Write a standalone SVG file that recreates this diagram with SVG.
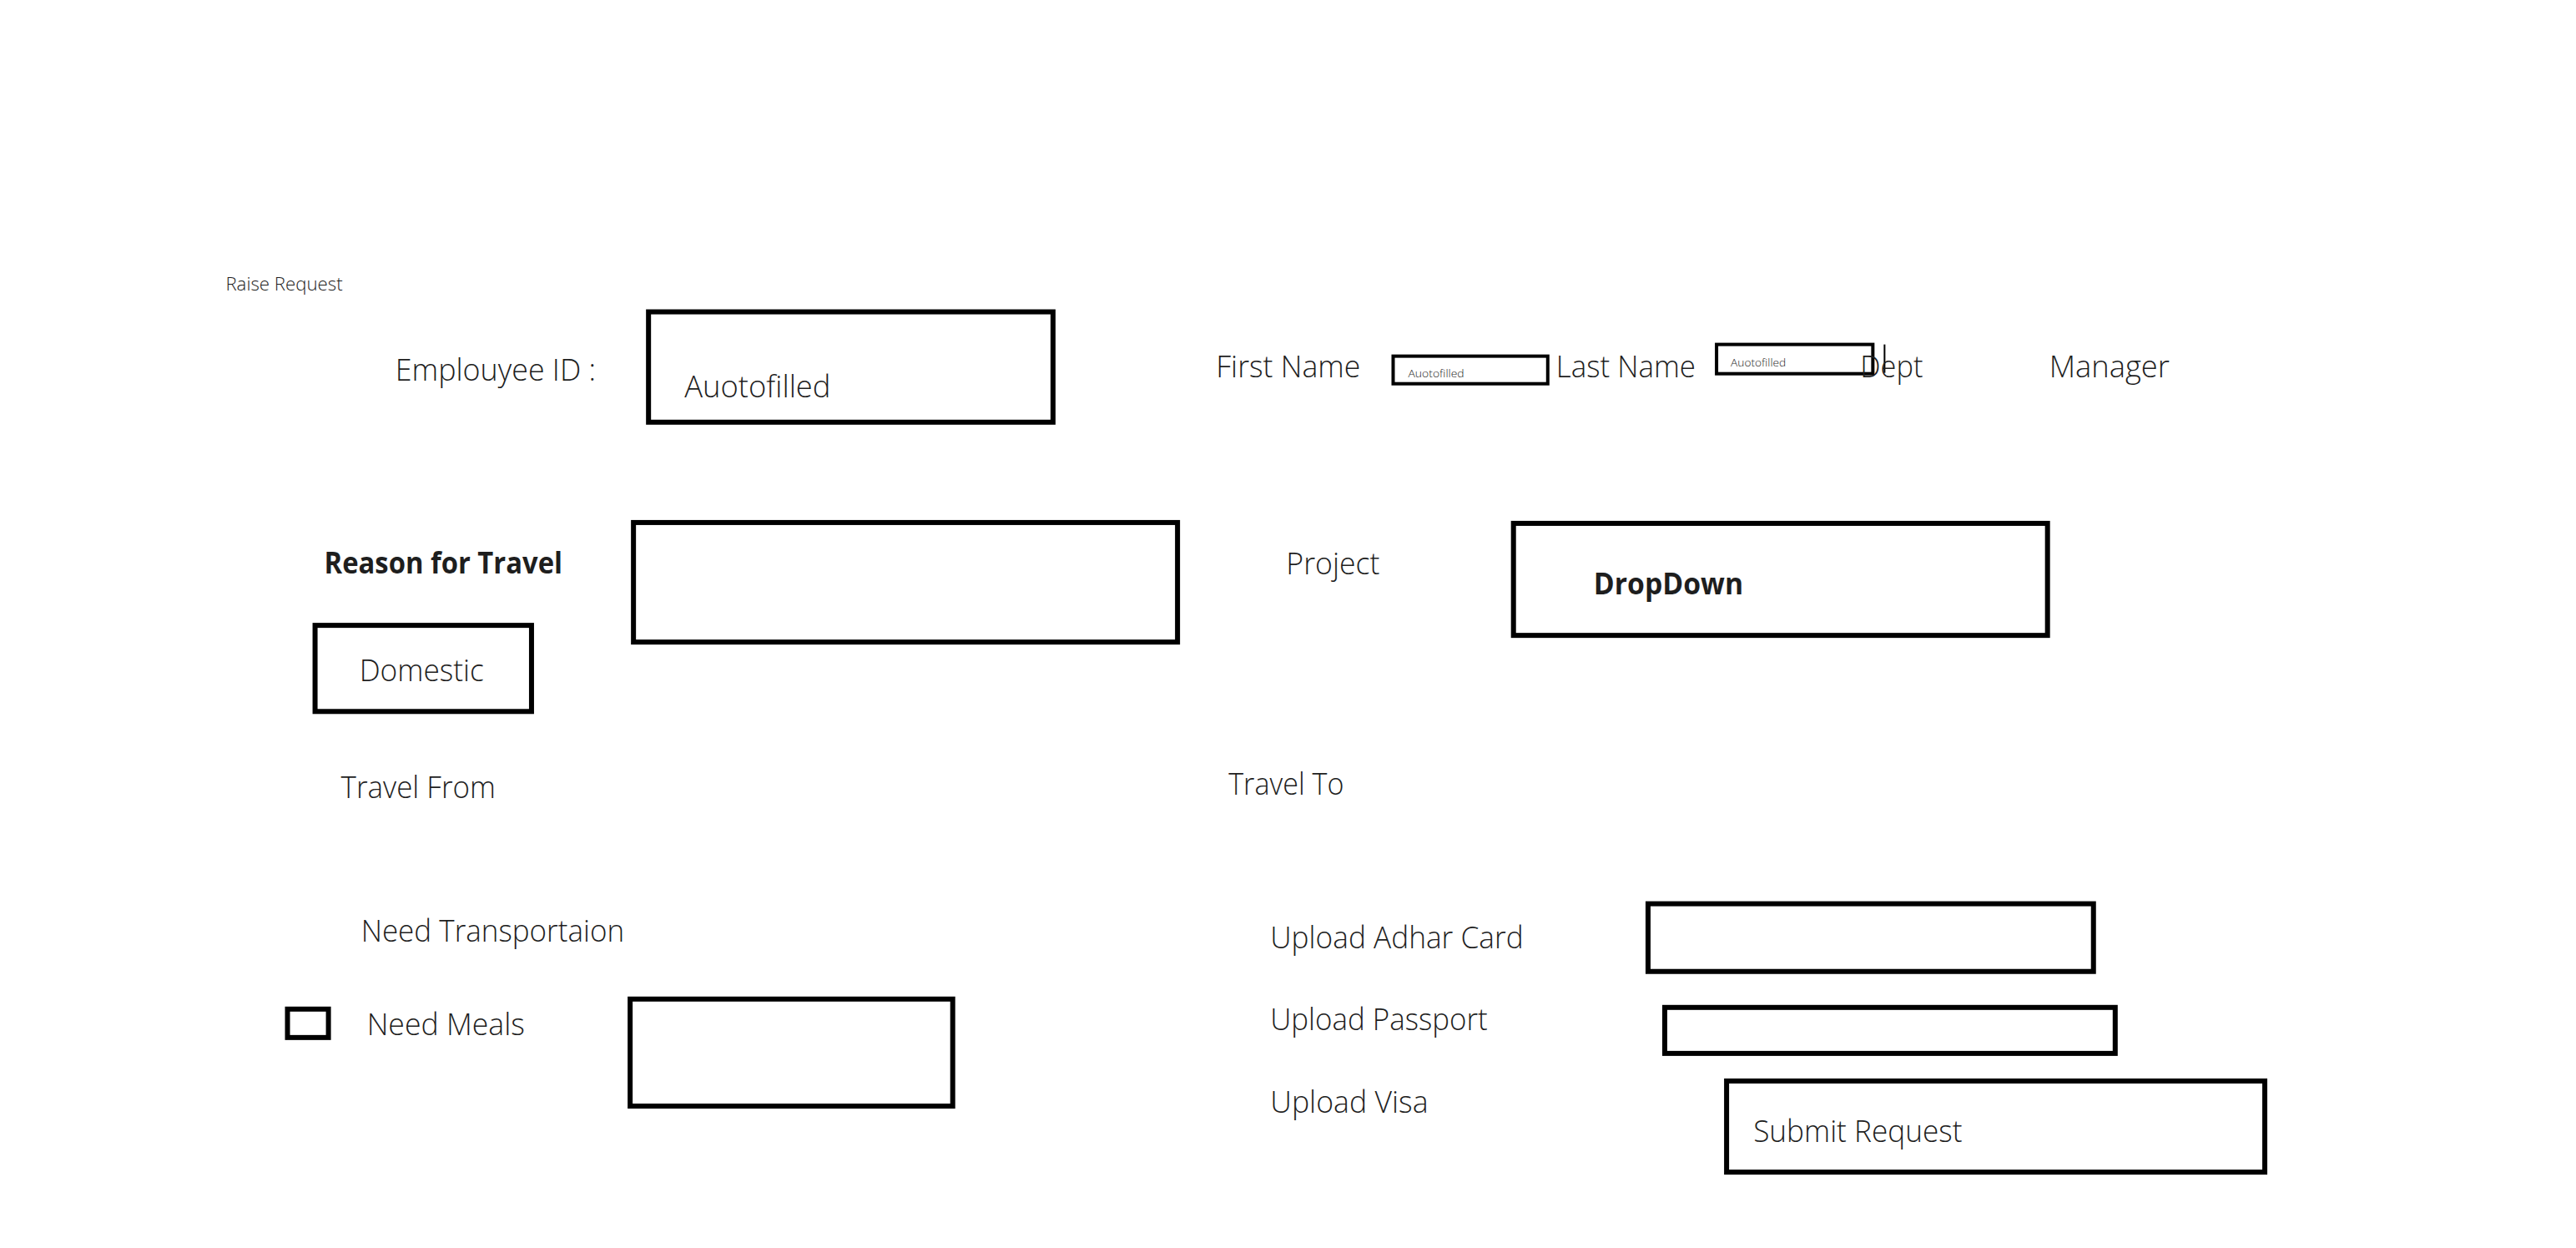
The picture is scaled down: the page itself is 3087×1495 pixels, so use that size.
<svg xmlns="http://www.w3.org/2000/svg" width="3087" height="1495" viewBox="0 0 3087 1495">
<style>
.t{font-family:"Open Sans","Liberation Sans",sans-serif;font-weight:300;font-size:36px;fill:#1e1e1e}
.b{font-family:"Open Sans","Liberation Sans",sans-serif;font-weight:700;font-size:36px;fill:#1e1e1e}
.s{font-family:"Open Sans","Liberation Sans",sans-serif;font-weight:300;font-size:12px;fill:#1e1e1e}
.box{fill:none;stroke:#000;stroke-width:6}
.thin{fill:none;stroke:#000;stroke-width:4}
</style>
<rect width="3087" height="1495" fill="#fff"/>
<g transform="translate(1,1) scale(1.0015)">
<g id="title"><text class="t" x="269" y="346" style="font-size:22px" textLength="140" lengthAdjust="spacingAndGlyphs">Raise Request</text></g>
<g id="employee-id">
<text class="t" x="472" y="454" textLength="240" lengthAdjust="spacingAndGlyphs">Emplouyee ID :</text>
<rect class="box" x="775" y="372" width="484" height="132"/>
<text class="t" x="818" y="474" textLength="175" lengthAdjust="spacingAndGlyphs">Auotofilled</text>
</g>
<g id="first-name">
<text class="t" x="1454" y="450" textLength="173" lengthAdjust="spacingAndGlyphs">First Name</text>
<rect class="thin" x="1666" y="425" width="185" height="33"/>
<text class="s" x="1684" y="450" textLength="67" lengthAdjust="spacingAndGlyphs">Auotofilled</text>
</g>
<g id="last-name">
<text class="t" x="1861" y="450" textLength="167" lengthAdjust="spacingAndGlyphs">Last Name</text>
<rect class="thin" x="2053" y="411" width="187" height="35"/>
<text class="s" x="2070" y="437" textLength="66" lengthAdjust="spacingAndGlyphs">Auotofilled</text>
<line x1="2254" y1="411" x2="2254" y2="445" stroke="#000" stroke-width="2"/>
</g>
<g id="dept"><text class="t" x="2225" y="450" textLength="75" lengthAdjust="spacingAndGlyphs">Dept</text></g>
<g id="manager"><text class="t" x="2451" y="450" textLength="144" lengthAdjust="spacingAndGlyphs">Manager</text></g>
<g id="reason">
<text class="b" x="387" y="685" textLength="285" lengthAdjust="spacingAndGlyphs">Reason for Travel</text>
<rect class="box" x="757" y="624" width="651" height="143"/>
</g>
<g id="project">
<text class="t" x="1538" y="686" textLength="112" lengthAdjust="spacingAndGlyphs">Project</text>
<rect class="box" x="1810" y="625" width="639" height="134"/>
<text class="b" x="1906" y="710" textLength="179" lengthAdjust="spacingAndGlyphs">DropDown</text>
</g>
<g id="domestic">
<rect class="box" x="376" y="747" width="259" height="103"/>
<text class="t" x="429" y="814" textLength="149" lengthAdjust="spacingAndGlyphs">Domestic</text>
</g>
<g id="travel-from"><text class="t" x="407" y="954" textLength="185" lengthAdjust="spacingAndGlyphs">Travel From</text></g>
<g id="travel-to"><text class="t" x="1469" y="950" textLength="138" lengthAdjust="spacingAndGlyphs">Travel To</text></g>
<g id="transport"><text class="t" x="431" y="1125" textLength="315" lengthAdjust="spacingAndGlyphs">Need Transportaion</text></g>
<g id="meals">
<rect class="box" x="343" y="1206" width="49" height="34"/>
<text class="t" x="438" y="1237" textLength="189" lengthAdjust="spacingAndGlyphs">Need Meals</text>
<rect class="box" x="753" y="1194" width="386" height="128"/>
</g>
<g id="adhar">
<text class="t" x="1519" y="1133" textLength="303" lengthAdjust="spacingAndGlyphs">Upload Adhar Card</text>
<rect class="box" x="1971" y="1080" width="533" height="81"/>
</g>
<g id="passport">
<text class="t" x="1519" y="1231" textLength="260" lengthAdjust="spacingAndGlyphs">Upload Passport</text>
<rect class="box" x="1991" y="1204" width="539" height="55"/>
</g>
<g id="visa"><text class="t" x="1519" y="1330" textLength="189" lengthAdjust="spacingAndGlyphs">Upload Visa</text></g>
<g id="submit">
<rect class="box" x="2065" y="1292" width="644" height="109"/>
<text class="t" x="2097" y="1365" textLength="250" lengthAdjust="spacingAndGlyphs">Submit Request</text>
</g>
<g id="connectors"></g>
</g>
</svg>
